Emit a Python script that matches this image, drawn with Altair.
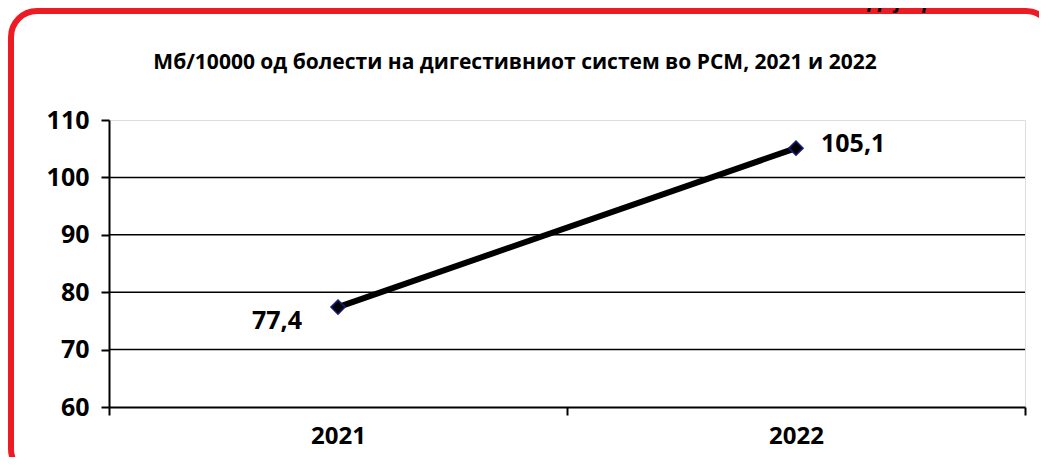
import altair as alt
import pandas as pd

years = ["2021", "2022"]
values = [77.4, 105.1]
value_labels = ["77,4", "105,1"]
grid_values = [70, 80, 90, 100]
y_ticks = [60, 70, 80, 90, 100, 110]
title_text = "Мб/10000 од болести на дигестивниот систем во РСМ, 2021 и 2022"
corner_text = "Дијаграм 31"

df = pd.DataFrame({"year": years, "value": values, "label": value_labels})
grid_df = pd.DataFrame({"g": grid_values})
one = pd.DataFrame({"a": [0]})

FONT = "Open Sans"

x_enc = alt.X(
    "year:N",
    scale=alt.Scale(paddingInner=0, paddingOuter=0),
    axis=alt.Axis(
        title=None, labelAngle=0, tickBand="extent", tickSize=8, tickWidth=2,
        tickColor="#000", domainColor="#000", domainWidth=2,
        labelFont=FONT, labelFontSize=24, labelFontWeight="bold", labelColor="#000",
        labelPadding=9, grid=False,
    ),
)
y_scale = alt.Scale(domain=[60, 110], nice=False, zero=False)
y_enc = alt.Y(
    "value:Q",
    scale=y_scale,
    axis=alt.Axis(
        title=None, values=y_ticks, tickSize=8, tickWidth=2, tickColor="#000",
        domainColor="#000", domainWidth=2, grid=False,
        labelFont=FONT, labelFontSize=25, labelFontWeight="bold", labelColor="#000",
        labelPadding=12,
    ),
)

frame = alt.Chart(one).mark_rect(
    fill=None, stroke="#ED1C24", strokeWidth=6, cornerRadius=26
).encode(
    x=alt.value(-98), x2=alt.value(943), y=alt.value(-109), y2=alt.value(355)
)

corner = alt.Chart(one).mark_text(
    text=corner_text, font=FONT, fontSize=20, fontWeight="bold", fontStyle="italic",
    align="right", baseline="alphabetic", color="#000"
).encode(x=alt.value(880), y=alt.value(-112))

title = alt.Chart(one).mark_text(
    text=title_text, font=FONT, fontSize=21, fontWeight="bold", color="#000",
    align="center", baseline="middle"
).encode(x=alt.value(406), y=alt.value(-57))

grid = alt.Chart(grid_df).mark_rule(color="#000", strokeWidth=1.5).encode(
    y=alt.Y("g:Q", scale=y_scale)
)

line = alt.Chart(df).mark_line(color="#000", strokeWidth=6).encode(x=x_enc, y=y_enc)
points = alt.Chart(df).mark_point(
    shape="diamond", filled=True, fill="#000", stroke="#1a1a80", strokeWidth=1.5,
    size=200, opacity=1
).encode(x="year:N", y=alt.Y("value:Q", scale=y_scale))

lab_left = alt.Chart(df).transform_filter(alt.datum.year == "2021").mark_text(
    font=FONT, fontSize=25, fontWeight="bold", align="right", baseline="middle",
    dx=-36, dy=14, color="#000"
).encode(x="year:N", y=alt.Y("value:Q", scale=y_scale), text="label:N")
lab_right = alt.Chart(df).transform_filter(alt.datum.year == "2022").mark_text(
    font=FONT, fontSize=25, fontWeight="bold", align="left", baseline="middle",
    dx=25, dy=-4, color="#000"
).encode(x="year:N", y=alt.Y("value:Q", scale=y_scale), text="label:N")

chart = alt.layer(frame, corner, title, grid, line, points, lab_left, lab_right).properties(
    width=916, height=287,
    autosize=alt.AutoSizeParams(type="none"),
    padding={"left": 101, "top": 112, "right": 14, "bottom": 50},
).configure_view(stroke="#808080", strokeWidth=2).configure(background="#ffffff")

chart.save("out.html", embed_options={"renderer": "svg", "actions": False})
